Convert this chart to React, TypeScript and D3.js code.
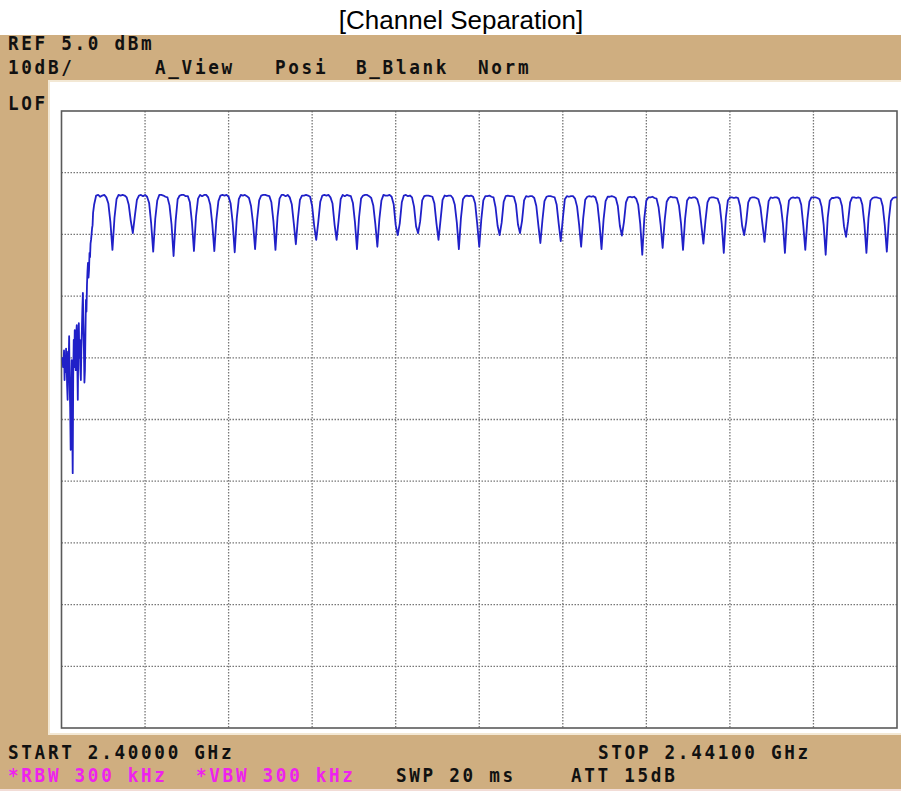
import React from 'react';
import * as d3 from 'd3';

// Analyzer settings
const refLevel = 5.0; // dBm
const dbPerDiv = 10;
const startGHz = 2.4;
const stopGHz = 2.441;
const divisions = 10;

// Noisy start of the sweep: [MHz above START, dBm]
const startTrace: [number, number][] = [
  [0.05, -34.9], [0.075, -36.5], [0.1, -35.7], [0.125, -33.8], [0.15, -38.6],
  [0.175, -36.0], [0.2, -37.3], [0.225, -33.5], [0.25, -35.4], [0.275, -39.5],
  [0.3, -41.8], [0.325, -34.0], [0.35, -36.2], [0.375, -31.5], [0.4, -39.4],
  [0.425, -43.0], [0.45, -49.9], [0.475, -40.0], [0.5, -35.4], [0.525, -45.0],
  [0.55, -53.7], [0.575, -38.0], [0.6, -32.1], [0.625, -36.5], [0.65, -30.5],
  [0.675, -34.0], [0.7, -37.0], [0.725, -31.0], [0.75, -29.7], [0.775, -35.5],
  [0.8, -41.8], [0.825, -33.0], [0.85, -29.4], [0.875, -35.0], [0.9, -32.1],
  [0.925, -36.8], [0.95, -38.6], [0.975, -33.5], [1.0, -30.5], [1.025, -27.0],
  [1.05, -24.5], [1.075, -29.5], [1.1, -33.7], [1.125, -39.0], [1.15, -37.0],
  [1.175, -31.0], [1.2, -25.6], [1.225, -27.5], [1.25, -23.2], [1.275, -21.0],
  [1.3, -19.6], [1.325, -22.0], [1.35, -20.8], [1.375, -18.0], [1.4, -18.7],
  [1.425, -16.5], [1.45, -15.9], [1.475, -15.0], [1.5, -14.0], [1.525, -13.5],
  [1.55, -11.5],
];

// One row per channel lobe (centre = channel MHz), levels at
// centre -0.4 .. +0.4 MHz in 0.1 MHz steps, then the dip at +0.5 MHz
const firstChannel = 2;
const channelLobes: number[][] = [
  [-10.2, -8.7, -8.6, -8.9, -8.7, -8.6, -9.0, -10.0, -13.0, -17.5],
  [-12.3, -9.3, -8.6, -8.7, -8.6, -8.7, -9.0, -10.2, -12.8, -14.8],
  [-12.0, -9.4, -8.7, -8.6, -8.8, -8.6, -8.9, -9.9, -13.2, -17.8],
  [-12.5, -9.5, -8.6, -8.6, -8.7, -8.9, -9.0, -10.3, -13.4, -18.5],
  [-12.8, -9.3, -8.7, -8.6, -8.6, -8.8, -8.8, -9.8, -13.0, -17.7],
  [-12.1, -9.2, -8.6, -8.8, -8.6, -8.6, -9.0, -10.2, -13.3, -17.7],
  [-12.6, -9.6, -8.7, -8.6, -8.7, -8.6, -8.9, -10.0, -13.1, -17.9],
  [-12.4, -9.3, -8.6, -8.7, -8.6, -8.8, -9.1, -10.4, -13.2, -17.4],
  [-12.6, -9.5, -8.7, -8.6, -8.6, -8.7, -8.8, -9.8, -12.9, -17.5],
  [-12.2, -9.2, -8.6, -8.6, -8.8, -8.6, -9.0, -10.1, -13.2, -16.6],
  [-12.5, -9.4, -8.7, -8.7, -8.6, -8.7, -8.9, -10.4, -13.6, -15.9],
  [-13.0, -9.7, -8.7, -8.6, -8.7, -8.6, -9.0, -10.0, -13.4, -15.9],
  [-12.7, -9.3, -8.6, -8.8, -8.6, -8.7, -8.8, -9.9, -13.0, -17.4],
  [-12.3, -9.2, -8.7, -8.6, -8.6, -8.8, -9.1, -10.3, -13.3, -17.0],
  [-12.5, -9.5, -8.6, -8.7, -8.7, -8.6, -8.9, -10.1, -13.5, -15.1],
  [-13.2, -9.8, -8.7, -8.6, -8.8, -8.7, -9.0, -10.5, -13.7, -14.8],
  [-12.9, -9.5, -8.8, -8.7, -8.7, -8.8, -8.9, -10.0, -13.2, -15.9],
  [-12.7, -9.4, -8.7, -8.8, -8.7, -8.7, -9.1, -10.2, -13.1, -17.4],
  [-12.4, -9.3, -8.8, -8.7, -8.8, -8.7, -8.9, -10.0, -13.3, -17.0],
  [-12.6, -9.5, -8.8, -8.8, -8.7, -8.9, -9.0, -10.6, -13.6, -15.1],
  [-13.1, -9.7, -8.8, -8.7, -8.8, -8.8, -8.9, -10.1, -13.4, -14.8],
  [-12.8, -9.5, -8.8, -8.9, -8.8, -8.8, -9.1, -10.4, -13.5, -16.4],
  [-12.7, -9.6, -8.9, -8.8, -8.8, -8.9, -9.0, -10.2, -13.3, -16.1],
  [-12.5, -9.3, -8.8, -8.9, -8.8, -8.8, -9.2, -10.5, -13.4, -17.0],
  [-12.4, -9.4, -8.9, -8.8, -8.9, -8.8, -9.0, -10.1, -13.2, -17.4],
  [-12.6, -9.6, -8.9, -8.9, -8.8, -8.9, -9.1, -10.4, -13.6, -15.2],
  [-13.0, -9.8, -9.0, -8.9, -9.0, -8.9, -9.2, -10.2, -13.3, -18.3],
  [-12.4, -9.5, -9.0, -9.0, -8.9, -9.1, -9.2, -10.6, -13.4, -17.2],
  [-12.7, -9.7, -9.1, -8.9, -9.0, -9.0, -9.1, -10.3, -13.2, -17.5],
  [-12.5, -9.5, -9.0, -9.1, -9.0, -9.0, -9.3, -10.5, -13.5, -16.5],
  [-12.8, -9.8, -9.1, -9.0, -9.0, -9.1, -9.2, -10.2, -13.3, -18.0],
  [-12.3, -9.5, -9.0, -9.0, -9.1, -9.0, -9.1, -10.4, -13.6, -15.1],
  [-13.0, -9.8, -9.1, -9.0, -9.0, -9.1, -9.3, -10.6, -13.4, -16.2],
  [-12.6, -9.6, -9.0, -9.1, -9.0, -9.0, -9.2, -10.3, -13.2, -18.0],
  [-12.4, -9.5, -9.1, -9.0, -9.1, -9.0, -9.1, -10.2, -13.5, -17.5],
  [-12.7, -9.7, -9.0, -9.0, -9.0, -9.1, -9.3, -10.5, -13.4, -18.3],
  [-12.3, -9.5, -9.1, -9.1, -9.0, -9.0, -9.2, -10.4, -13.7, -15.4],
  [-12.9, -9.8, -9.0, -9.0, -9.1, -9.0, -9.1, -10.2, -13.3, -18.0],
  [-12.4, -9.5, -9.1, -9.0, -9.0, -9.1, -9.2, -10.4, -13.5, -17.8],
  // channel 41, cut off by STOP
  [-12.6, -9.6, -9.1, -9.0, -9.0],
];

const headerRow1 = [{ text: 'REF 5.0 dBm', x: 8 }];
const headerRow2 = [
  { text: '10dB/', x: 8 },
  { text: 'A_View', x: 155 },
  { text: 'Posi', x: 275 },
  { text: 'B_Blank', x: 356 },
  { text: 'Norm', x: 478 },
];
const footerRow1 = [
  { text: 'START 2.40000 GHz', x: 8, color: '#111' },
  { text: 'STOP 2.44100 GHz', x: 598, color: '#111' },
];
const footerRow2 = [
  { text: '*RBW 300 kHz', x: 8, color: '#ee22ee' },
  { text: '*VBW 300 kHz', x: 196, color: '#ee22ee' },
  { text: 'SWP 20 ms', x: 396, color: '#111' },
  { text: 'ATT 15dB', x: 571, color: '#111' },
];

const W = 901;
const H = 792;
const frame = { left: 61.5, right: 897, top: 111, bottom: 728 };
const tan = '#cfae80';
const monoFont = "'DejaVu Sans Mono', monospace";

// condensed, heavy instrument-style text
const ScreenText = ({ x, y, color = '#111', children }: { x: number; y: number; color?: string; children: string }) => (
  <text
    transform={`translate(${x},${y}) scale(0.84,0.96)`}
    fontFamily={monoFont}
    fontWeight="bold"
    fontSize={21}
    letterSpacing={3.2}
    fill={color}
  >
    {children}
  </text>
);

export default function App() {
  const x = d3.scaleLinear().domain([startGHz, stopGHz]).range([frame.left, frame.right]);
  const y = d3
    .scaleLinear()
    .domain([refLevel - dbPerDiv * divisions, refLevel])
    .range([frame.bottom, frame.top]);

  // assemble the trace: noisy start, then the channel lobes
  const trace: [number, number][] = startTrace.map(([mhz, db]) => [startGHz + mhz / 1000, db]);
  channelLobes.forEach((row, i) => {
    const ch = firstChannel + i;
    row.forEach((db, j) => {
      const mhz = ch + (j - 4) * 0.1;
      trace.push([startGHz + mhz / 1000, db]);
    });
  });

  const line = d3
    .line<[number, number]>()
    .x(d => x(d[0]))
    .y(d => y(d[1]));

  const xGrid = d3.range(1, divisions).map(i => startGHz + ((stopGHz - startGHz) * i) / divisions);
  const yGrid = d3.range(1, divisions).map(i => refLevel - dbPerDiv * i);

  return (
    <svg
      width={W}
      height={H}
      style={{ position: 'absolute', left: 0, top: 0, background: '#fff' }}
    >
      <text
        x={461}
        y={29}
        textAnchor="middle"
        fontFamily="'Liberation Sans', Arial, sans-serif"
        fontSize={26}
        fill="#000"
      >
        [Channel Separation]
      </text>

      {/* instrument screen */}
      <rect x={0} y={35} width={W} height={754} fill={tan} />
      <rect x={48} y={80} width={W - 48} height={655} fill="#f3e8d4" />
      <rect x={50} y={82} width={W - 50} height={651} fill="#fff" />
      <rect x={0} y={789} width={W} height={2} fill="#f2dcd6" />

      {headerRow1.map(d => (
        <ScreenText key={d.text} x={d.x} y={50}>{d.text}</ScreenText>
      ))}
      {headerRow2.map(d => (
        <ScreenText key={d.text} x={d.x} y={74}>{d.text}</ScreenText>
      ))}
      <ScreenText x={8} y={110}>LOF</ScreenText>
      {footerRow1.map(d => (
        <ScreenText key={d.text} x={d.x} y={759} color={d.color}>{d.text}</ScreenText>
      ))}
      {footerRow2.map(d => (
        <ScreenText key={d.text} x={d.x} y={782} color={d.color}>{d.text}</ScreenText>
      ))}

      {/* graticule */}
      <g stroke="#777" strokeWidth={1.3} strokeDasharray="1.5,1.5">
        {xGrid.map(v => (
          <line key={'x' + v} x1={x(v)} x2={x(v)} y1={frame.top} y2={frame.bottom} />
        ))}
        {yGrid.map(v => (
          <line key={'y' + v} x1={frame.left} x2={frame.right} y1={y(v)} y2={y(v)} />
        ))}
      </g>
      <rect
        x={frame.left}
        y={frame.top}
        width={frame.right - frame.left}
        height={frame.bottom - frame.top}
        fill="none"
        stroke="#5a5a5a"
        strokeWidth={1.6}
      />

      <path
        d={line(trace) ?? ''}
        fill="none"
        stroke="#2020c8"
        strokeWidth={1.8}
        strokeLinejoin="round"
      />
    </svg>
  );
}
